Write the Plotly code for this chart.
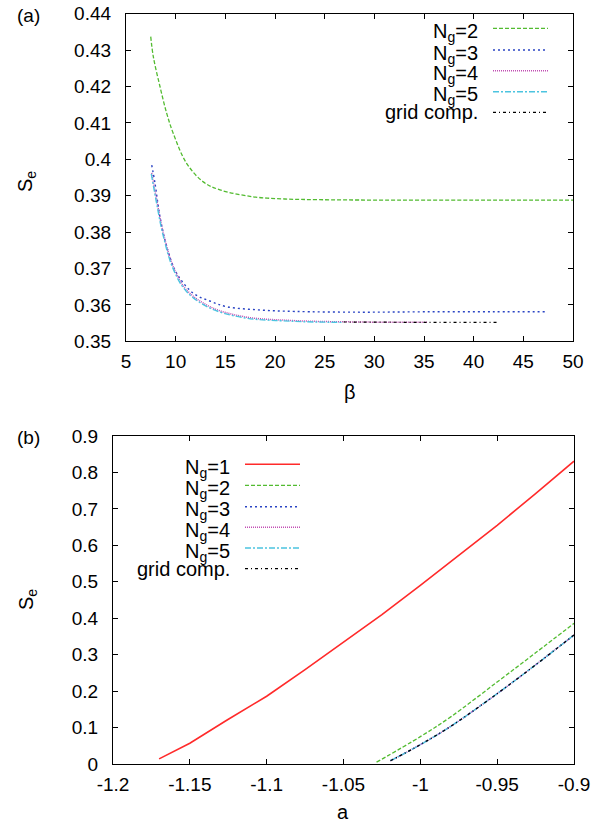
import plotly.graph_objects as go

# ---------------- Panel (a): S_e vs beta ----------------
beta_ng2 = [7.49, 7.75, 8.42, 9.1, 9.76, 11.1, 12.78, 14.46, 17.8, 21.0, 24.5, 30, 40, 50]
se_ng2 = [0.4337, 0.4282, 0.4200, 0.4126, 0.4071, 0.3989, 0.3938, 0.3916, 0.3897, 0.3891, 0.3889, 0.3888, 0.3888, 0.3888]

beta_ng3 = [7.59, 7.92, 8.42, 9.1, 10.1, 11.78, 13.5, 15.14, 18.5, 22.0, 28.6, 35, 42, 47.35]
se_ng3 = [0.3984, 0.3934, 0.3842, 0.3760, 0.3687, 0.3632, 0.3610, 0.3595, 0.3586, 0.3582, 0.3580, 0.3581, 0.3581, 0.3581]

beta_ng4 = [7.59, 8.09, 8.76, 9.76, 11.1, 13.46, 16.8, 21.8, 28.6, 35.3]
se_ng4 = [0.3963, 0.3888, 0.3797, 0.3705, 0.3641, 0.3595, 0.3568, 0.3557, 0.3553, 0.3552]

beta_ng5 = [7.55, 8.05, 8.72, 9.72, 11.05, 13.4, 16.8, 21.8, 26.8]
se_ng5 = [0.3960, 0.3884, 0.3793, 0.3701, 0.3638, 0.3592, 0.3565, 0.3555, 0.3552]

beta_grid = [26.9, 30, 35, 40, 42.6]
se_grid = [0.3553, 0.3552, 0.3552, 0.3552, 0.3552]

# ---------------- Panel (b): S_e vs a ----------------
a_ng1 = [-1.17, -1.15, -1.126, -1.1, -1.075, -1.05, -1.025, -1.0, -0.975, -0.95, -0.925, -0.9]
se_b_ng1 = [0.014, 0.057, 0.120, 0.186, 0.259, 0.335, 0.410, 0.490, 0.573, 0.655, 0.742, 0.831]

a_ng2 = [-1.0285, -1.0, -0.98, -0.95, -0.925, -0.9]
se_b_ng2 = [0.005, 0.075, 0.130, 0.225, 0.305, 0.386]

a_ng3 = [-1.0194, -1.0, -0.98, -0.95, -0.925, -0.9]
se_b_ng3 = [0.009, 0.053, 0.104, 0.193, 0.272, 0.354]

a_ng4 = [-1.0194, -1.0, -0.98, -0.95, -0.925, -0.9]
se_b_ng4 = [0.009, 0.053, 0.104, 0.193, 0.272, 0.354]

a_ng5 = [-1.0194, -1.0, -0.98, -0.95, -0.925, -0.9]
se_b_ng5 = [0.009, 0.053, 0.104, 0.193, 0.272, 0.354]

a_grid = [-1.0194, -1.0, -0.98, -0.95, -0.925, -0.9]
se_b_grid = [0.009, 0.053, 0.104, 0.193, 0.272, 0.354]

# tick labels
xa_ticks = [5, 10, 15, 20, 25, 30, 35, 40, 45, 50]
ya_ticks = [0.35, 0.36, 0.37, 0.38, 0.39, 0.40, 0.41, 0.42, 0.43, 0.44]
ya_labels = ["0.35", "0.36", "0.37", "0.38", "0.39", "0.4", "0.41", "0.42", "0.43", "0.44"]
xb_ticks = [-1.2, -1.15, -1.1, -1.05, -1.0, -0.95, -0.9]
xb_labels = ["-1.2", "-1.15", "-1.1", "-1.05", "-1", "-0.95", "-0.9"]
yb_ticks = [0, 0.1, 0.2, 0.3, 0.4, 0.5, 0.6, 0.7, 0.8, 0.9]
yb_labels = ["0", "0.1", "0.2", "0.3", "0.4", "0.5", "0.6", "0.7", "0.8", "0.9"]

labels_a = ["N<sub>g</sub>=2", "N<sub>g</sub>=3", "N<sub>g</sub>=4", "N<sub>g</sub>=5", "grid comp."]
labels_b = ["N<sub>g</sub>=1", "N<sub>g</sub>=2", "N<sub>g</sub>=3", "N<sub>g</sub>=4", "N<sub>g</sub>=5", "grid comp."]

# styles (gnuplot-like)
RED = "#ff2a2a"
GREEN = "#52bb30"
BLUE = "#2a44c4"
MAG = "#c24fb4"
CYAN = "#4cc4e0"
BLACK = "#000000"

st = {
    1: dict(color=RED, width=1.6, dash="solid"),
    2: dict(color=GREEN, width=1.3, dash="4px,2px"),
    3: dict(color=BLUE, width=1.4, dash="2px,3px"),
    4: dict(color=MAG, width=1.5, dash="1px,1px"),
    5: dict(color=CYAN, width=1.4, dash="6px,2px,2px,2px"),
    6: dict(color=BLACK, width=1.2, dash="3px,3px,1px,3px"),
}

W, H = 607, 828
FONT = "Liberation Sans, Arial, Helvetica, sans-serif"
FS = 19

fig = go.Figure()

def add(x, y, s, xa, ya, shape="linear"):
    fig.add_trace(go.Scatter(x=x, y=y, mode="lines", line=dict(shape=shape, **st[s]), xaxis=xa, yaxis=ya,
                             showlegend=False, hoverinfo="skip"))

add(beta_ng2, se_ng2, 2, "x", "y", "spline")
add(beta_ng3, se_ng3, 3, "x", "y", "spline")
add(beta_ng4, se_ng4, 4, "x", "y", "spline")
add(beta_ng5, se_ng5, 5, "x", "y", "spline")
add(beta_grid, se_grid, 6, "x", "y")

add(a_ng1, se_b_ng1, 1, "x2", "y2")
add(a_ng2, se_b_ng2, 2, "x2", "y2", "spline")
add(a_ng3, se_b_ng3, 3, "x2", "y2", "spline")
add(a_ng4, se_b_ng4, 4, "x2", "y2", "spline")
add(a_ng5, se_b_ng5, 5, "x2", "y2", "spline")
add(a_grid, se_b_grid, 6, "x2", "y2", "spline")

def px(x):
    return x / W

def py(y):
    return 1 - y / H

axis_common = dict(showgrid=False, zeroline=False, showline=True, linecolor="black", linewidth=1.3,
                   mirror="allticks", ticks="inside", ticklen=5, tickwidth=1, tickcolor="black",
                   automargin=False, ticklabeloverflow="allow",
                   tickfont=dict(family=FONT, size=FS, color="black"))

fig.update_layout(
    width=W, height=H,
    margin=dict(l=0, r=0, t=0, b=0, pad=0, autoexpand=False),
    paper_bgcolor="white", plot_bgcolor="white",
    font=dict(family=FONT, size=FS, color="black"),
    xaxis=dict(domain=[px(126), px(573)], range=[5, 50], tickvals=xa_ticks, anchor="y",
               ticklabelstandoff=3, **axis_common),
    yaxis=dict(domain=[py(341.3), py(13.7)], range=[0.35, 0.44], tickvals=ya_ticks, ticktext=ya_labels,
               anchor="x", ticklabelstandoff=10, **axis_common),
    xaxis2=dict(domain=[px(113), px(574)], range=[-1.2, -0.9], tickvals=xb_ticks, ticktext=xb_labels,
                anchor="y2", ticklabelstandoff=3, **axis_common),
    yaxis2=dict(domain=[py(764), py(436)], range=[0, 0.9], tickvals=yb_ticks, ticktext=yb_labels,
                anchor="x2", ticklabelstandoff=10, **axis_common),
)

ann = []
shapes = []

def txt(x, y, t, xanchor="center", yanchor="middle", angle=0, size=FS, yshift=0):
    ann.append(dict(x=px(x), y=py(y), xref="paper", yref="paper", text=t, showarrow=False,
                    xanchor=xanchor, yanchor=yanchor, textangle=angle, yshift=yshift,
                    font=dict(family=FONT, size=size, color="black")))

# panel labels & axis titles
txt(28, 16, "(a)")
txt(28, 437, "(b)")
txt(27, 182, "S<sub>e</sub>", angle=-90, size=FS + 1)
txt(27, 600, "S<sub>e</sub>", angle=-90, size=FS + 1)
txt(350, 392, "β", size=FS + 1)
txt(343, 812, "a", size=FS + 1)

# legend (a)
rows_a = [28.3, 50, 70.7, 91.7, 112.3]
for lab, yy, s in zip(labels_a, rows_a, [2, 3, 4, 5, 6]):
    sh = -4 if "sub" in lab else 0
    txt(480, yy, lab, xanchor="right", size=FS + 1, yshift=sh)
    shapes.append(dict(type="line", xref="paper", yref="paper", x0=px(493), x1=px(548),
                       y0=py(yy), y1=py(yy), line=st[s]))

# legend (b)
rows_b = [464.3, 485.3, 506.7, 527.3, 548, 568.7]
for lab, yy, s in zip(labels_b, rows_b, [1, 2, 3, 4, 5, 6]):
    sh = -4 if "sub" in lab else 0
    txt(232, yy, lab, xanchor="right", size=FS + 1, yshift=sh)
    shapes.append(dict(type="line", xref="paper", yref="paper", x0=px(245), x1=px(300),
                       y0=py(yy), y1=py(yy), line=st[s]))

fig.update_layout(annotations=ann, shapes=shapes)

# remove the default 8px page margin so the figure sits at the window's top-left corner
fig.write_html("out.html", config={"displayModeBar": False},
               post_script="document.body.style.margin='0';")
